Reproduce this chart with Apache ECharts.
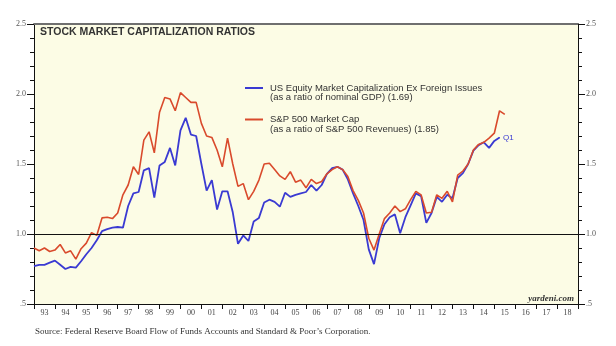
<!DOCTYPE html>
<html>
<head>
<meta charset="utf-8">
<script src="https://cdn.jsdelivr.net/npm/echarts@6/dist/echarts.min.js"></script>
<style>
html,body{margin:0;padding:0;background:#fff;}
#chart{width:616px;height:346px;}
</style>
</head>
<body>
<div id="chart"></div>
<script>
// Year tick labels (category axis, one per calendar year)
const yearLabels = ['93','94','95','96','97','98','99','00','01','02','03','04','05','06','07','08','09','10','11','12','13','14','15','16','17','18'];
// Quarterly data, first value = 1992 Q4 (plotted at start of 1993)
const firstYear = 1993;
const equityToGdp = [
  0.77,0.78,0.78,0.795,0.81,0.78,0.75,0.765,0.76,0.805,
  0.855,0.90,0.955,1.02,1.035,1.045,1.05,1.045,1.20,1.29,
  1.30,1.455,1.47,1.26,1.49,1.515,1.615,1.49,1.74,1.83,
  1.71,1.70,1.50,1.31,1.385,1.175,1.305,1.305,1.155,0.93,
  0.99,0.95,1.09,1.115,1.225,1.245,1.23,1.195,1.295,1.265,
  1.28,1.29,1.30,1.35,1.31,1.35,1.43,1.47,1.48,1.46,
  1.39,1.29,1.20,1.10,0.89,0.785,0.97,1.07,1.12,1.14,
  1.005,1.12,1.205,1.29,1.27,1.08,1.15,1.265,1.23,1.28,
  1.255,1.40,1.435,1.50,1.595,1.635,1.655,1.615,1.665,1.69
];
const spxToRevenue = [
  0.90,0.88,0.90,0.875,0.885,0.925,0.865,0.88,0.82,0.895,
  0.935,1.01,0.99,1.115,1.12,1.11,1.15,1.28,1.35,1.48,
  1.425,1.67,1.73,1.58,1.87,1.975,1.965,1.88,2.01,1.975,
  1.94,1.94,1.79,1.70,1.69,1.60,1.48,1.685,1.50,1.34,
  1.36,1.245,1.305,1.385,1.50,1.505,1.46,1.415,1.39,1.445,
  1.37,1.385,1.33,1.39,1.36,1.375,1.43,1.46,1.48,1.46,
  1.41,1.31,1.24,1.15,0.97,0.885,1.00,1.11,1.15,1.20,
  1.16,1.18,1.245,1.305,1.28,1.15,1.155,1.28,1.255,1.305,
  1.23,1.42,1.45,1.50,1.60,1.64,1.655,1.685,1.72,1.88,
  1.855
];
const lastQuarterLabel = 'Q1';

const BLUE = '#3a3ad2';
const RED = '#d94a2c';

function toPoints(values, lastLabel, color) {
  return values.map(function (v, i) {
    const item = { value: [firstYear + i * 0.25, v] };
    if (lastLabel && i === values.length - 1) {
      item.symbol = 'circle';
      item.symbolSize = 1;
      item.label = { show: true, formatter: lastLabel, position: 'right', distance: 3,
        color: color, fontSize: 8, fontFamily: 'Liberation Sans' };
    }
    return item;
  });
}

function yFmt(v) { return Math.abs(v - 0.5) < 1e-9 ? '.5' : v.toFixed(1); }

const yCommon = {
  type: 'value', min: 0.5, max: 2.5, interval: 0.5,
  axisLine: { show: true, onZero: false, lineStyle: { color: '#111', width: 1 } },
  axisTick: { show: true, length: 7, lineStyle: { color: '#111' } },
  minorTick: { show: true, splitNumber: 5, length: 4, lineStyle: { color: '#111' } },
  axisLabel: { formatter: yFmt, fontFamily: 'Liberation Serif', fontSize: 8, color: '#555', margin: 8 },
  splitLine: { show: false }
};

const chart = echarts.init(document.getElementById('chart'), null, { renderer: 'canvas' });
chart.setOption({
  animation: false,
  backgroundColor: '#ffffff',
  grid: { left: 34, right: 38, top: 24, bottom: 42, show: true, backgroundColor: '#fcfce5', borderWidth: 0 },
  xAxis: [
    {
      type: 'category', data: yearLabels, position: 'bottom', boundaryGap: true,
      axisLine: { show: true, onZero: false, lineStyle: { color: '#111', width: 1 } },
      axisTick: { show: true, interval: 0, length: 5, lineStyle: { color: '#111' } },
      axisLabel: { interval: 0, fontFamily: 'Liberation Serif', fontSize: 8, color: '#444', margin: 5 },
      splitLine: { show: false }
    },
    {
      type: 'value', min: 1993, max: 2019, position: 'top',
      axisLine: { show: true, onZero: false, lineStyle: { color: '#6f6f6f', width: 2 } },
      axisTick: { show: false }, axisLabel: { show: false }, splitLine: { show: false }
    }
  ],
  yAxis: [
    Object.assign({}, yCommon, { position: 'left' }),
    Object.assign({}, yCommon, { position: 'right' })
  ],
  series: [
    {
      name: 'US Equity Market Capitalization Ex Foreign Issues',
      type: 'line', xAxisIndex: 1, yAxisIndex: 0,
      data: toPoints(equityToGdp, lastQuarterLabel, BLUE),
      symbol: 'none', showSymbol: true,
      lineStyle: { color: BLUE, width: 1.8 }, itemStyle: { color: BLUE },
      z: 3,
      markLine: {
        silent: true, symbol: 'none', label: { show: false },
        lineStyle: { color: '#111', width: 1, type: 'solid' },
        data: [{ yAxis: 1.0 }]
      }
    },
    {
      name: 'S&P 500 Market Cap',
      type: 'line', xAxisIndex: 1, yAxisIndex: 0,
      data: toPoints(spxToRevenue, null, RED),
      symbol: 'none', showSymbol: false,
      lineStyle: { color: RED, width: 1.6 }, itemStyle: { color: RED },
      z: 4
    }
  ],
  graphic: [
    { type: 'text', z: 10, style: { text: 'STOCK MARKET CAPITALIZATION RATIOS', x: 40, y: 32, verticalAlign: 'middle',
      font: 'bold 10.5px "Liberation Sans"', fill: '#333' } },
    { type: 'line', z: 10, shape: { x1: 245, y1: 88, x2: 263, y2: 88 }, style: { stroke: BLUE, lineWidth: 2 } },
    { type: 'text', z: 10, style: { text: 'US Equity Market Capitalization Ex Foreign Issues', x: 270, y: 88, verticalAlign: 'middle',
      font: '9.5px "Liberation Sans"', fill: '#333' } },
    { type: 'text', z: 10, style: { text: '(as a ratio of nominal GDP) (1.69)', x: 270, y: 97.5, verticalAlign: 'middle',
      font: '9.5px "Liberation Sans"', fill: '#333' } },
    { type: 'line', z: 10, shape: { x1: 245, y1: 119.5, x2: 263, y2: 119.5 }, style: { stroke: RED, lineWidth: 2 } },
    { type: 'text', z: 10, style: { text: 'S&P 500 Market Cap', x: 270, y: 119.5, verticalAlign: 'middle',
      font: '9.5px "Liberation Sans"', fill: '#333' } },
    { type: 'text', z: 10, style: { text: '(as a ratio of S&P 500 Revenues) (1.85)', x: 270, y: 129.5, verticalAlign: 'middle',
      font: '9.5px "Liberation Sans"', fill: '#333' } },
    { type: 'text', z: 10, style: { text: 'yardeni.com', x: 574, y: 299, align: 'right', verticalAlign: 'middle',
      font: 'italic bold 9px "Liberation Serif"', fill: '#333' } },
    { type: 'text', z: 10, style: { text: 'Source: Federal Reserve Board Flow of Funds Accounts and Standard & Poor\u2019s Corporation.', x: 35, y: 332, verticalAlign: 'middle',
      font: '9px "Liberation Serif"', fill: '#333' } }
  ]
});
</script>
</body>
</html>
